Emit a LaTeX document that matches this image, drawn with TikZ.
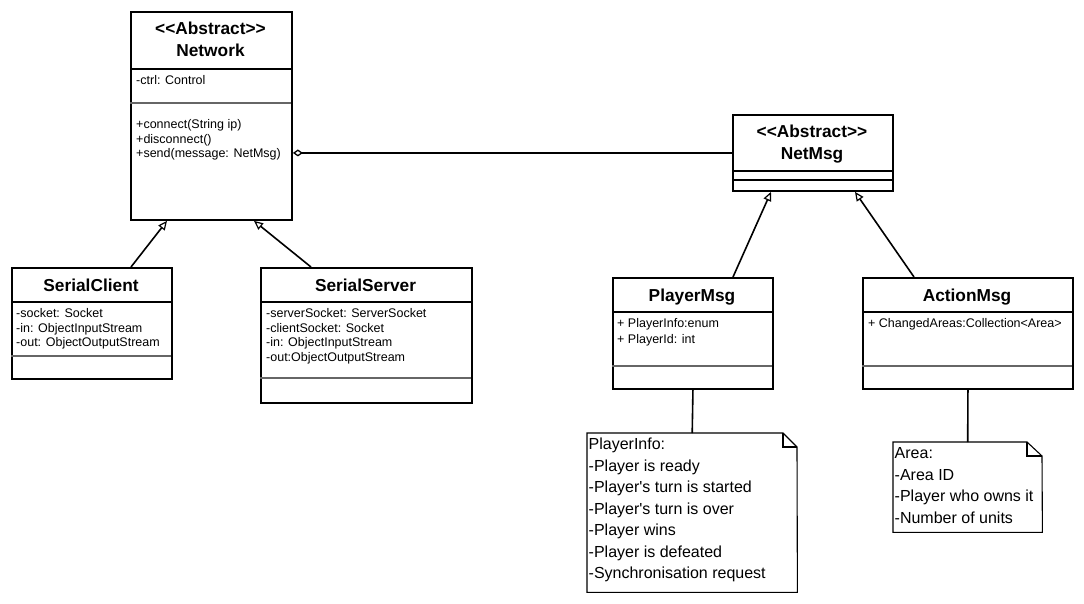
\documentclass[tikz,border=0pt]{standalone}
\usepackage{fontspec}
\setmainfont{Liberation Sans}[Ligatures=TeXOff]
\usetikzlibrary{arrows.meta,calc}
\begin{document}
\begin{tikzpicture}[x=1pt,y=-1pt,
 cls/.style={draw, line width=1.9pt, rectangle, inner sep=0pt, anchor=north west},
 hsep/.style={line width=1.9pt},
 gsep/.style={line width=1.3pt, draw=black!60},
 ttl/.style={font=\fontsize{17.3}{20}\selectfont\bfseries, inner sep=0pt, anchor=base},
 attr/.style={font=\fontsize{12.5}{14.5}\selectfont, inner sep=0pt, anchor=base west},
 ntxt/.style={font=\fontsize{16}{21.5}\selectfont, inner sep=0pt, anchor=base west},
 notebox/.style={rectangle, inner sep=0pt, anchor=north west},
 noteline/.style={line width=1.1pt},
 inh/.style={line width=1.6pt, -{Triangle[open, length=9pt, width=8pt, line width=1.2pt, fill=white]}},
 agg/.style={line width=1.4pt, {Diamond[open, length=10pt, width=7pt, line width=1.3pt, fill=white]}-},
 link/.style={line width=1.6pt}
]
\useasboundingbox[fill=white] (0,0) rectangle (1084,603);

% ---------- Network ----------
\node[cls, minimum width=161, minimum height=208] (network) at (130,11) {};
\draw[hsep] (130,69) -- (291,69);
\draw[gsep] (130,103) -- (291,103);
\node[ttl] (netst) at (210.5,34) {<<Abstract>>};
\node[ttl] (netnm) at (210.5,56) {Network};
\node[attr] (neta1) at (136,84.5) {-ctrl: Control};
\node[attr] (netm1) at (136,128.5) {+connect(String ip)};
\node[attr] (netm2) at (136,143) {+disconnect()};
\node[attr] (netm3) at (136,157.5) {+send(message: NetMsg)};

% ---------- NetMsg ----------
\node[cls, minimum width=160, minimum height=76] (netmsg) at (732,114) {};
\draw[hsep] (732,171) -- (892,171);
\draw[line width=1.4pt] (732,180) -- (892,180);
\node[ttl] (nmst) at (812,137) {<<Abstract>>};
\node[ttl] (nmnm) at (812,159) {NetMsg};

% ---------- SerialClient ----------
\node[cls, minimum width=160, minimum height=111] (sc) at (11,267) {};
\draw[hsep] (11,302) -- (171,302);
\draw[gsep] (11,356) -- (171,356);
\node[ttl] (scnm) at (91,291) {SerialClient};
\node[attr] (sca1) at (16,317.5) {-socket: Socket};
\node[attr] (sca2) at (16,332) {-in: ObjectInputStream};
\node[attr] (sca3) at (16,346.5) {-out: ObjectOutputStream};

% ---------- SerialServer ----------
\node[cls, minimum width=211, minimum height=135] (ss) at (260,267) {};
\draw[hsep] (260,302) -- (471,302);
\draw[gsep] (260,378) -- (471,378);
\node[ttl] (ssnm) at (365.5,291) {SerialServer};
\node[attr] (ssa1) at (266,317.5) {-serverSocket: ServerSocket};
\node[attr] (ssa2) at (266,332) {-clientSocket: Socket};
\node[attr] (ssa3) at (266,346.5) {-in: ObjectInputStream};
\node[attr] (ssa4) at (266,361) {-out:ObjectOutputStream};

% ---------- PlayerMsg ----------
\node[cls, minimum width=160, minimum height=111] (pm) at (612,277) {};
\draw[hsep] (612,312) -- (772,312);
\draw[gsep] (612,366) -- (772,366);
\node[ttl] (pmnm) at (692,301) {PlayerMsg};
\node[attr] (pma1) at (617,327.5) {+ PlayerInfo:enum};
\node[attr] (pma2) at (617,343) {+ PlayerId: int};

% ---------- ActionMsg ----------
\node[cls, minimum width=210, minimum height=111] (am) at (862,277) {};
\draw[hsep] (862,312) -- (1072,312);
\draw[gsep] (862,366) -- (1072,366);
\node[ttl] (amnm) at (967,301) {ActionMsg};
\node[attr] (ama1) at (868,327.5) {+ ChangedAreas:Collection<Area>};

% ---------- PlayerInfo note ----------
\node[notebox, minimum width=210, minimum height=159] (pinote) at (587,433) {};
\draw[noteline] (pinote.north west) -- ++(196,0) -- ++(14,14) -- (pinote.south east) -- (pinote.south west) -- cycle;
\draw[noteline] ($(pinote.north west)+(196,0)$) -- ++(0,14) -- ++(14,0);
\node[ntxt] (pi0) at (588.5,449) {PlayerInfo:};
\node[ntxt] (pi1) at (588.5,471) {-Player is ready};
\node[ntxt] (pi2) at (588.5,492.5) {-Player's turn is started};
\node[ntxt] (pi3) at (588.5,514) {-Player's turn is over};
\node[ntxt] (pi4) at (588.5,535.5) {-Player wins};
\node[ntxt] (pi5) at (588.5,557) {-Player is defeated};
\node[ntxt] (pi6) at (588.5,578.5) {-Synchronisation request};

% ---------- Area note ----------
\node[notebox, minimum width=149, minimum height=90] (areanote) at (893,442) {};
\draw[noteline] (areanote.north west) -- ++(134,0) -- ++(15,14) -- (areanote.south east) -- (areanote.south west) -- cycle;
\draw[noteline] ($(areanote.north west)+(134,0)$) -- ++(0,14) -- ++(15,0);
\node[ntxt] (ar0) at (894.5,458) {Area:};
\node[ntxt] (ar1) at (894.5,480) {-Area ID};
\node[ntxt] (ar2) at (894.5,501.5) {-Player who owns it};
\node[ntxt] (ar3) at (894.5,523) {-Number of units};

% ---------- Connectors ----------
\draw[inh] ($(sc.north west)+(120,0)$) -- ($(network.south west)+(37,0)$);
\draw[inh] ($(ss.north west)+(51,0)$) -- ($(network.south west)+(124,0)$);
\draw[inh] ($(pm.north west)+(121,0)$) -- ($(netmsg.south west)+(39,0)$);
\draw[inh] ($(am.north west)+(52,0)$) -- ($(netmsg.south west)+(123,0)$);
\draw[agg] (network.east |- netmsg.west) -- (netmsg.west);
\draw[link] (pm.south) -- (pinote.north);
\draw[link] (am.south) -- (areanote.north);
\end{tikzpicture}
\end{document}
